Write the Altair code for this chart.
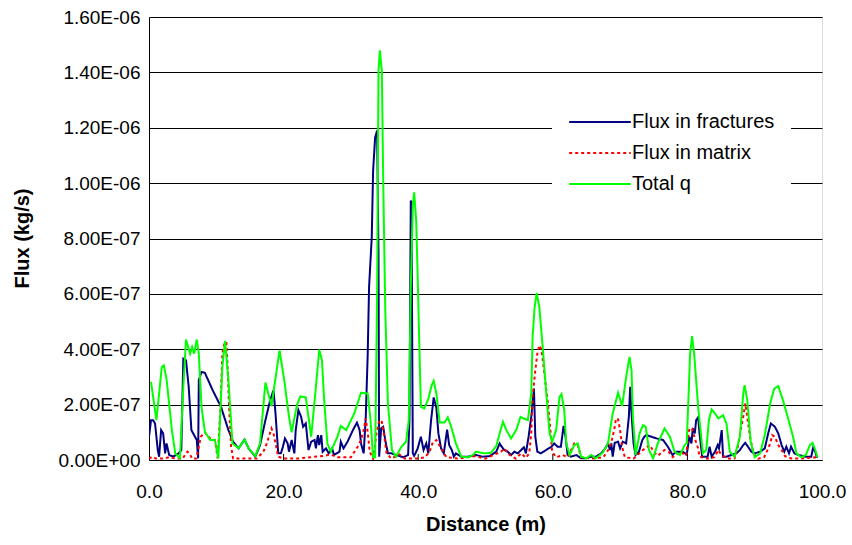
import json
import altair as alt
import pandas as pd

# ---------------- data (flux in units of 1e-7 kg/s) ----------------
series_names = ["Flux in fractures", "Flux in matrix", "Total q"]
series_colors = ["#000080", "#FF0000", "#00FF00"]

frac_x = [0.0, 0.3, 0.6, 0.9, 1.3, 1.5, 1.8, 2.1, 2.4, 2.6, 3.0, 3.6, 4.4, 4.8, 5.1, 5.5, 5.9, 6.3, 6.7, 7.1,
          7.3, 7.4, 7.8, 8.3, 9.5, 10.7, 11.8, 12.5, 13.3, 14.2, 14.8, 15.8, 16.5, 17.3, 18.0, 18.5, 18.8, 19.2,
          19.6, 19.9, 20.2, 20.6, 20.8, 21.2, 21.6, 21.8, 22.2, 22.6, 22.9, 23.3, 23.7, 24.1, 24.6, 24.8, 25.1,
          25.3, 25.6, 25.8, 26.3, 26.7, 27.2, 27.5, 28.3, 28.5, 28.9, 29.5, 30.3, 30.9, 31.3, 31.5, 31.9, 32.2,
          32.5, 32.7, 33.1, 33.3, 33.6, 33.9, 34.1, 34.2, 34.5, 34.8, 35.1, 35.5, 36.0, 36.7, 37.8, 38.5, 38.7,
          38.9, 39.0, 39.2, 39.4, 39.9, 40.4, 40.8, 41.2, 41.5, 41.9, 42.3, 42.7, 43.0, 43.4, 43.8, 44.3, 44.6,
          45.0, 45.3, 45.6, 46.4, 47.4, 48.6, 49.6, 50.6, 51.6, 52.1, 52.4, 52.8, 53.3, 53.8, 54.3, 54.8, 55.3,
          55.7, 56.0, 56.4, 56.8, 57.2, 57.4, 57.7, 58.2, 59.0, 59.8, 60.2, 60.7, 61.2, 61.6, 61.9, 62.2, 62.7,
          63.5, 64.2, 65.0, 65.7, 66.4, 67.2, 67.8, 68.2, 68.5, 68.7, 68.9, 69.2, 69.7, 70.0, 70.4, 70.9, 71.3,
          71.5, 71.7, 72.0, 72.3, 72.8, 73.3, 73.6, 73.9, 75.4, 76.4, 77.1, 77.8, 78.3, 79.3, 79.9, 80.3, 80.6,
          80.8, 81.1, 81.3, 81.6, 81.8, 82.2, 82.6, 83.0, 83.3, 83.6, 84.1, 84.5, 84.7, 85.1, 85.3, 85.8, 86.5,
          87.3, 87.8, 88.3, 88.6, 89.0, 89.5, 90.0, 90.8, 91.5, 92.0, 92.4, 93.0, 93.5, 94.0, 94.4, 94.7, 95.1,
          95.4, 95.9, 96.5, 97.5, 98.4, 98.7, 99.0, 99.2, 99.4]
frac_y = [0.84, 1.44, 1.44, 1.32, 0.36, 0.12, 1.08, 0.96, 0.24, 0.6, 0.18, 0.12, 0.24, 0.36, 3.66, 3.6, 2.64, 1.08,
          0.9, 0.72, 0.06, 2.88, 3.18, 3.15, 2.5, 1.92, 1.08, 0.66, 0.42, 0.74, 0.42, 0.12, 0.54, 1.44, 2.16, 2.52,
          1.68, 0.24, 0.24, 0.48, 0.78, 0.6, 0.3, 0.72, 0.24, 1.08, 1.8, 1.56, 1.2, 1.32, 0.36, 0.66, 0.72, 0.42,
          0.9, 0.54, 0.9, 0.3, 0.42, 0.24, 0.42, 0.18, 0.3, 0.66, 0.42, 0.66, 1.08, 1.35, 1.08, 0.6, 0.24, 1.5,
          3.84, 6.25, 8.05, 10.45, 11.65, 11.9, 7.45, 0.12, 1.14, 1.2, 0.72, 0.24, 0.24, 0.18, 0.1, 0.18, 1.44,
          9.37, 9.3, 0.24, 0.15, 0.4, 0.84, 0.36, 0.6, 0.24, 1.4, 2.26, 1.88, 0.96, 0.42, 0.24, 1.1, 0.54, 0.36,
          0.12, 0.24, 0.12, 0.12, 0.18, 0.12, 0.14, 0.3, 0.6, 0.48, 0.36, 0.3, 0.18, 0.3, 0.24, 0.36, 0.46, 0.24,
          0.84, 1.56, 2.58, 0.84, 0.3, 0.24, 0.36, 0.48, 0.6, 0.48, 0.48, 1.23, 0.84, 0.18, 0.12, 0.18, 0.06,
          0.06, 0.12, 0.12, 0.24, 0.42, 0.6, 0.36, 0.6, 0.12, 0.62, 0.66, 0.42, 0.66, 0.6, 1.56, 2.64, 1.68, 0.6,
          0.18, 0.3, 0.72, 0.84, 0.9, 0.78, 0.72, 0.48, 0.18, 0.3, 0.3, 0.2, 0.84, 0.6, 1.14, 0.96, 1.44, 1.54,
          0.96, 0.12, 0.12, 0.12, 0.48, 0.12, 0.3, 0.54, 0.42, 1.08, 0.12, 0.12, 0.18, 0.24, 0.36, 0.54, 0.62,
          0.48, 0.3, 0.24, 0.3, 0.42, 0.96, 1.32, 1.2, 0.96, 0.54, 0.3, 0.48, 0.24, 0.48, 0.24, 0.18, 0.12, 0.12,
          0.46, 0.3, 0.12, 0.12]

matrix_x = [0.0, 0.5, 1.0, 2.0, 3.0, 4.0, 5.0, 5.4, 5.7, 6.0, 6.4, 7.0, 7.2, 7.7, 8.3, 9.1, 9.8, 10.2, 10.6, 10.9,
            11.2, 11.5, 11.7, 11.9, 12.2, 12.5, 14.0, 16.0, 17.0, 17.5, 18.2, 18.5, 18.8, 19.2, 20.0, 22.0, 24.0,
            26.0, 27.0, 28.0, 30.0, 31.0, 31.5, 31.9, 32.2, 32.5, 32.8, 33.3, 33.8, 34.2, 34.6, 35.0, 35.3, 36.0,
            37.2, 38.0, 40.0, 41.0, 41.7, 42.2, 42.7, 43.4, 44.2, 46.0, 48.4, 50.0, 52.3, 52.8, 53.5, 54.5, 55.3,
            56.0, 56.5, 56.8, 57.0, 57.4, 57.7, 58.0, 58.3, 58.7, 59.0, 59.3, 59.6, 59.9, 60.5, 61.5, 62.2, 63.2,
            63.7, 64.2, 66.0, 67.5, 68.4, 68.9, 69.2, 69.4, 69.7, 70.0, 70.3, 70.7, 72.0, 73.4, 74.4, 75.0, 75.6,
            76.6, 77.2, 77.8, 79.0, 79.8, 80.1, 80.3, 80.7, 81.1, 81.6, 81.8, 83.0, 84.0, 84.6, 85.0, 86.0, 87.0,
            87.5, 87.9, 88.3, 88.6, 88.9, 89.3, 89.8, 90.5, 91.4, 91.8, 92.3, 92.6, 93.0, 93.5, 94.0, 94.5, 95.5,
            97.0, 99.0, 99.4]
matrix_y = [0.05, 0.12, 0.05, 0.05, 0.1, 0.05, 0.05, 0.2, 0.3, 0.25, 0.05, 0.05, 0.24, 0.84, 1.0, 0.78, 0.72, 0.06,
            1.8, 3.84, 4.23, 4.26, 3.24, 1.92, 0.48, 0.05, 0.05, 0.05, 0.3, 0.6, 1.14, 0.96, 0.6, 0.12, 0.05, 0.05,
            0.1, 0.15, 0.2, 0.1, 0.1, 0.48, 0.72, 1.08, 1.5, 1.0, 0.3, 0.05, 0.96, 1.44, 1.38, 0.78, 0.24, 0.05, 0.2,
            0.05, 0.05, 0.1, 0.3, 0.66, 0.72, 0.42, 0.1, 0.05, 0.14, 0.05, 0.3, 0.42, 0.2, 0.05, 0.24, 0.08, 0.24,
            0.96, 2.28, 3.24, 3.84, 4.14, 4.0, 3.24, 2.6, 2.0, 1.2, 0.3, 0.1, 0.18, 0.1, 0.6, 0.54, 0.1, 0.05, 0.1,
            0.42, 0.84, 1.2, 1.5, 1.47, 1.08, 0.48, 0.1, 0.05, 0.36, 0.54, 0.3, 0.15, 0.36, 0.3, 0.1, 0.3, 0.15,
            0.84, 1.14, 1.14, 0.78, 0.42, 0.12, 0.05, 0.1, 0.36, 0.2, 0.05, 0.05, 0.48, 1.08, 1.56, 2.04, 1.56,
            0.84, 0.24, 0.05, 0.1, 0.3, 0.6, 0.9, 0.84, 0.54, 0.36, 0.14, 0.05, 0.05, 0.1, 0.05]

total_x = [0.3, 1.1, 1.9, 2.2, 2.6, 3.4, 3.9, 4.6, 5.1, 5.5, 6.1, 6.4, 6.7, 7.1, 7.4, 7.8, 8.3, 9.1, 9.8, 10.3,
           10.9, 11.3, 11.8, 12.4, 13.3, 14.2, 14.8, 15.8, 16.5, 17.3, 18.2, 19.4, 20.1, 20.8, 21.2, 22.0, 22.5,
           23.3, 24.1, 24.8, 25.3, 25.7, 26.0, 26.5, 27.0, 28.0, 28.5, 29.3, 30.5, 31.5, 32.5, 32.9, 33.3, 33.6,
           33.9, 34.1, 34.3, 34.6, 34.8, 35.1, 35.5, 36.1, 36.7, 37.5, 38.2, 38.6, 38.9, 39.2, 39.4, 39.7, 39.9,
           40.2, 40.4, 40.9, 41.5, 42.0, 42.3, 42.7, 43.2, 43.9, 44.4, 44.9, 45.6, 46.4, 47.4, 48.1, 48.6, 49.8,
           50.8, 51.6, 52.1, 52.6, 53.1, 53.8, 54.6, 55.2, 55.7, 56.3, 56.8, 57.0, 57.3, 57.6, 58.0, 58.5, 59.0,
           59.5, 59.9, 60.5, 61.0, 61.3, 61.7, 62.0, 62.5, 63.2, 63.7, 64.2, 65.0, 65.7, 66.4, 67.4, 68.2, 68.9,
           69.7, 70.3, 70.9, 71.4, 71.7, 71.9, 72.3, 72.9, 73.4, 73.8, 74.3, 74.9, 75.6, 76.6, 77.4, 78.1, 78.9,
           79.6, 79.9, 80.2, 80.4, 80.7, 81.0, 81.6, 82.3, 82.8, 83.2, 83.6, 84.1, 84.6, 85.3, 85.8, 86.3, 87.0,
           87.8, 88.3, 88.5, 88.9, 89.4, 90.0, 90.8, 91.5, 92.3, 92.9, 93.5, 94.2, 94.9, 95.7, 96.2, 96.9, 97.6,
           98.2, 98.6, 99.0, 99.3]
total_y = [2.82, 1.44, 3.36, 3.42, 2.94, 1.08, 0.24, 0.06, 2.64, 4.35, 3.84, 4.08, 3.84, 4.35, 3.84, 1.92, 1.02,
           0.72, 0.72, 0.06, 3.36, 4.3, 2.88, 0.6, 0.42, 0.74, 0.42, 0.14, 0.6, 2.8, 1.95, 3.96, 2.88, 1.56, 1.0,
           2.0, 2.3, 2.26, 0.84, 2.64, 3.99, 3.6, 2.28, 0.6, 0.3, 0.84, 1.23, 1.08, 1.68, 2.43, 2.4, 1.5, 0.1, 0.1,
           6.0, 14.05, 14.8, 14.05, 10.1, 5.5, 2.04, 0.36, 0.12, 0.48, 0.66, 1.44, 6.25, 9.2, 9.67, 8.65, 6.85,
           3.84, 1.92, 1.86, 2.2, 2.7, 2.86, 2.4, 1.35, 1.35, 1.54, 1.2, 0.6, 0.12, 0.1, 0.18, 0.3, 0.24, 0.26, 0.5,
           0.96, 1.38, 1.08, 0.78, 1.1, 1.56, 1.5, 1.44, 2.4, 4.44, 5.52, 6.03, 5.52, 4.08, 2.5, 1.0, 0.66, 1.08,
           2.28, 2.38, 1.8, 0.6, 0.18, 0.54, 0.6, 0.12, 0.06, 0.18, 0.06, 0.26, 0.6, 1.68, 2.43, 1.95, 3.0, 3.72,
           3.24, 1.56, 0.18, 0.96, 1.26, 1.2, 0.36, 0.06, 0.6, 1.14, 0.84, 0.3, 0.18, 0.55, 0.6, 2.5, 3.84, 4.47,
           3.84, 1.92, 0.24, 0.36, 1.44, 1.83, 1.68, 1.5, 1.62, 1.32, 0.3, 0.12, 0.84, 2.4, 2.7, 2.16, 0.66, 0.1,
           0.24, 0.9, 2.04, 2.58, 2.67, 2.16, 1.56, 0.84, 0.24, 0.1, 0.18, 0.54, 0.62, 0.36, 0.1]

x_ticks = [0, 20, 40, 60, 80, 100]
inner_x_ticks = [20, 40, 60, 80]
y_ticks = [0, 2, 4, 6, 8, 10, 12, 14, 16]
y_tick_labels = ["0.00E+00", "2.00E-07", "4.00E-07", "6.00E-07", "8.00E-07",
                 "1.00E-06", "1.20E-06", "1.40E-06", "1.60E-06"]

# ---------------- table ----------------
frames = []
for name, xs, ys in [(series_names[0], frac_x, frac_y),
                     (series_names[1], matrix_x, matrix_y),
                     (series_names[2], total_x, total_y)]:
    frames.append(pd.DataFrame({"distance": xs, "flux": ys, "series": name}))
df = pd.concat(frames, ignore_index=True)

FONT = "Liberation Sans"
label_expr = json.dumps(y_tick_labels) + "[round(datum.value / 2)]"

lines = alt.Chart(df).mark_line(strokeWidth=2, clip=True).encode(
    x=alt.X("distance:Q",
            scale=alt.Scale(domain=[0, 100], nice=False, zero=False),
            axis=alt.Axis(values=x_ticks, format=".1f", title="Distance (m)", grid=False,
                          ticks=False, labelPadding=22, labelFontSize=19, labelFont=FONT,
                          labelFlush=False,
                          labelColor="black", domainColor="black", domainWidth=1,
                          titleFont=FONT, titleFontSize=20, titleFontWeight="bold",
                          titleColor="black", titleY=64, titleBaseline="middle")),
    y=alt.Y("flux:Q",
            scale=alt.Scale(domain=[0, 16], nice=False),
            axis=alt.Axis(values=y_ticks, labelExpr=label_expr, title="Flux (kg/s)",
                          grid=True, gridColor="black", gridWidth=1, gridOpacity=1,
                          ticks=False, labelPadding=9, labelFontSize=19, labelFont=FONT,
                          labelFlush=False,
                          labelColor="black", domainColor="black", domainWidth=1,
                          titleFont=FONT, titleFontSize=20, titleFontWeight="bold",
                          titleColor="black", titleX=-127, titleY=221, titleAlign="center",
                          titleBaseline="middle")),
    color=alt.Color("series:N",
                    scale=alt.Scale(domain=series_names, range=series_colors),
                    legend=alt.Legend(title=None, orient="none", legendX=403, legendY=74,
                                      fillColor="white", padding=16,
                                      symbolType="M-2.2,0L2.2,0", symbolSize=784,
                                      symbolStrokeWidth=2, symbolOffset=17, labelOffset=17,
                                      labelFont=FONT, labelFontSize=20, labelColor="black",
                                      rowPadding=6)),
    strokeDash=alt.StrokeDash("series:N",
                              scale=alt.Scale(domain=series_names, range=[[1, 0], [3, 3], [1, 0]]),
                              legend=None),
)

tick_df = pd.DataFrame({"t": inner_x_ticks})
inner_ticks = alt.Chart(tick_df).mark_rule(color="black", strokeWidth=1).encode(
    x="t:Q", y=alt.value(437), y2=alt.value(443)
)

chart = alt.layer(lines, inner_ticks).properties(
    width=673, height=443,
    autosize=alt.AutoSizeParams(type="none"),
    padding={"left": 149, "top": 17, "right": 30, "bottom": 85},
).configure_view(stroke="#808080", strokeWidth=1).configure(background="white")

chart.save("out.html", embed_options={"renderer": "svg", "actions": False})
